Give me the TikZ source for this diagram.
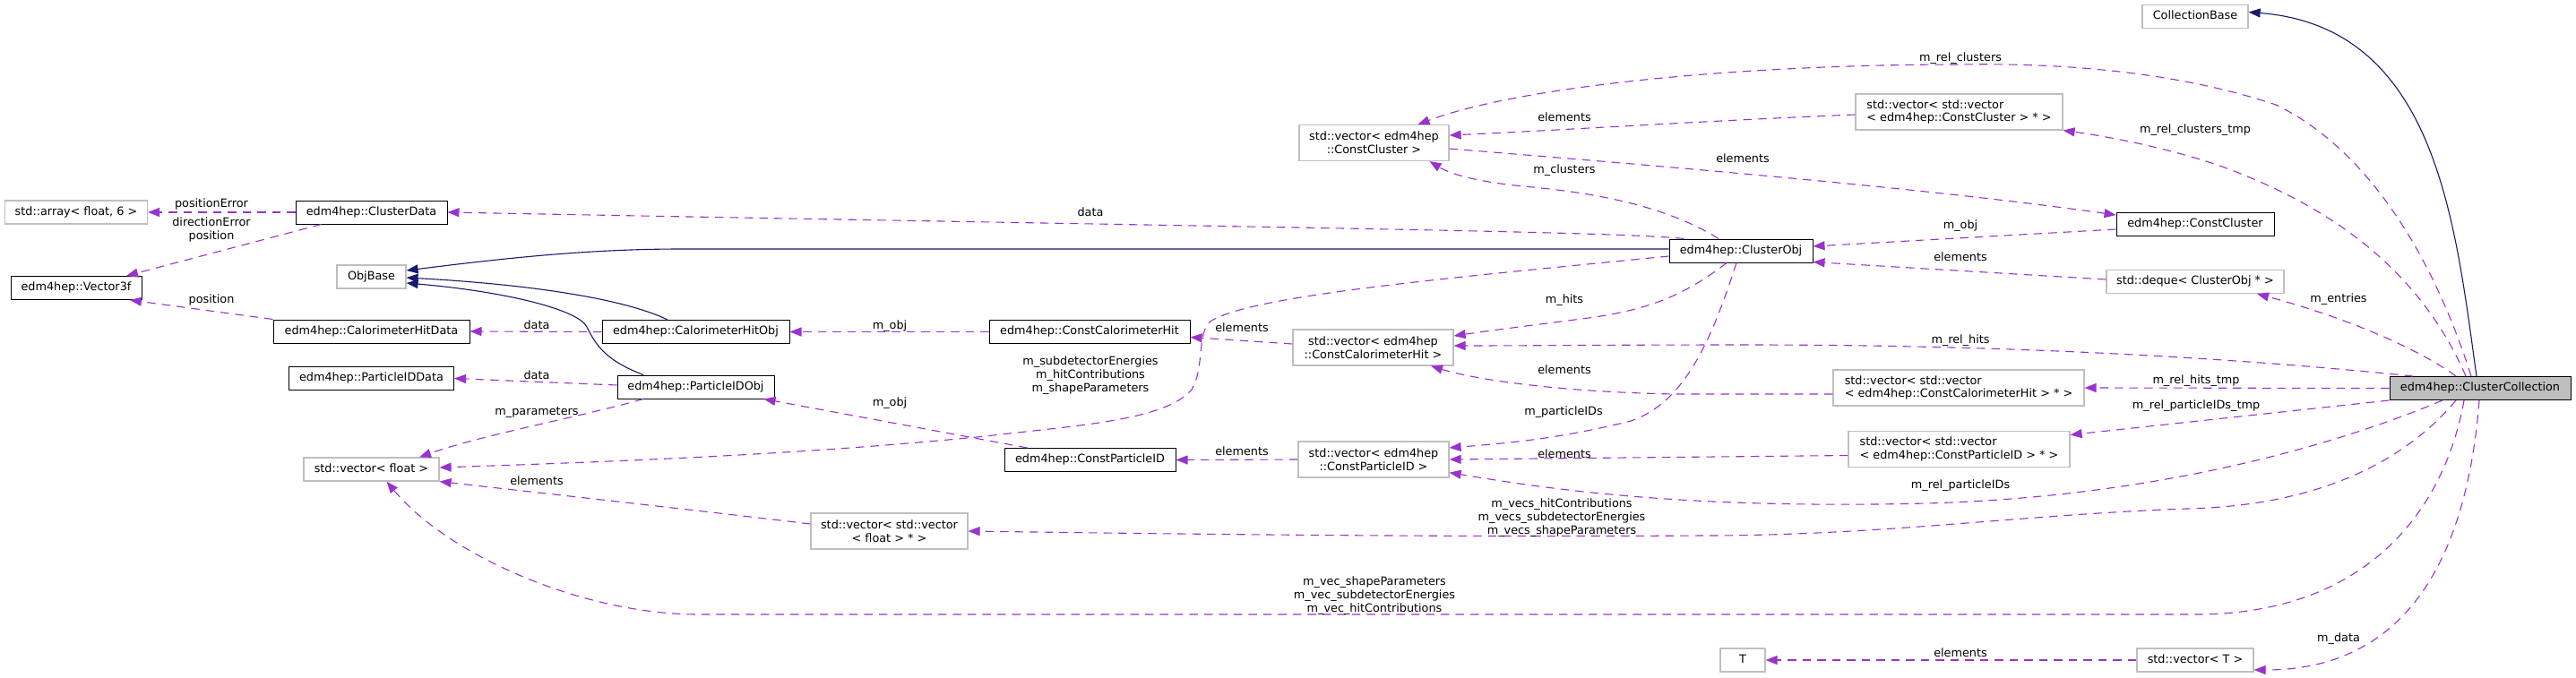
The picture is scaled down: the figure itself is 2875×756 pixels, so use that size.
\documentclass[tikz,border=0pt]{standalone}
\usepackage{fontspec}
\setmainfont{DejaVu Sans}
\usetikzlibrary{arrows.meta}
\definecolor{purp}{HTML}{9A32CD}
\definecolor{navyb}{HTML}{191970}
\definecolor{gline}{HTML}{BFBFBF}
\definecolor{ccfill}{HTML}{BFBFBF}
\begin{document}
\begin{tikzpicture}[x=1pt,y=-1pt,
  base/.style={font=\fontsize{12.8pt}{14.8pt}\selectfont, inner sep=0pt},
  bx/.style={base, draw=black, line width=1pt, fill=white, minimum height=26pt, text height=9.7pt, text depth=2.9pt},
  gbx/.style={base, draw=gline, line width=1.2pt, fill=white, minimum height=26pt, text height=9.7pt, text depth=2.9pt},
  gbxtwo/.style={base, draw=gline, line width=1.2pt, fill=white, minimum height=40pt, align=center},
  lbl/.style={base, text height=9.7pt, text depth=2.9pt},
  lblm/.style={base, align=center},
  dep/.style={draw=purp, line width=1.1pt, dash pattern=on 9.5pt off 7pt, -{Triangle[length=13pt,width=10pt]}},
  inhe/.style={draw=navyb, line width=1.1pt, -{Triangle[length=13pt,width=10pt]}}
]
\fill[white] (0,0) rectangle (2875,756);
\useasboundingbox (0,0) rectangle (2875,756);

% nodes
\node[gbx, minimum width=159pt] (arr) at (85,237) {std::array< float, 6 >};
\node[bx, minimum width=146pt] (v3f) at (85,321.5) {edm4hep::Vector3f};
\node[bx, minimum width=169pt] (cdata) at (414.5,237) {edm4hep::ClusterData};
\node[gbx, minimum width=77pt] (objb) at (414.5,309) {ObjBase};
\node[bx, minimum width=219pt] (chd) at (414.5,370) {edm4hep::CalorimeterHitData};
\node[bx, minimum width=184pt] (pidd) at (414.5,422.5) {edm4hep::ParticleIDData};
\node[gbx, minimum width=151pt] (vf) at (414.5,524) {std::vector< float >};
\node[bx, minimum width=209pt] (cho) at (776.5,370.5) {edm4hep::CalorimeterHitObj};
\node[bx, minimum width=175pt] (pido) at (776.5,432) {edm4hep::ParticleIDObj};
\node[gbxtwo, minimum width=175pt] (vvf) at (992.5,593) {std::vector< std::vector\\< float > * >};
\node[bx, minimum width=224pt] (cch) at (1216,370.5) {edm4hep::ConstCalorimeterHit};
\node[bx, minimum width=191pt] (cpid) at (1216.5,513.5) {edm4hep::ConstParticleID};
\node[gbxtwo, minimum width=167pt] (vcc) at (1533.5,159.5) {std::vector< edm4hep\\::ConstCluster >};
\node[gbxtwo, minimum width=179pt] (vcch) at (1532.5,388) {std::vector< edm4hep\\::ConstCalorimeterHit >};
\node[gbxtwo, minimum width=168pt] (vcpid) at (1533,513) {std::vector< edm4hep\\::ConstParticleID >};
\node[bx, minimum width=160pt] (cobj) at (1943,280) {edm4hep::ClusterObj};
\node[gbx, minimum width=50pt] (t) at (1945,737) {T};
\node[gbxtwo, align=left, minimum width=231pt] (vvcc) at (2186.5,125) {std::vector< std::vector\\< edm4hep::ConstCluster > * >};
\node[gbxtwo, align=left, minimum width=280pt] (vvcch) at (2186,433) {std::vector< std::vector\\< edm4hep::ConstCalorimeterHit > * >};
\node[gbxtwo, align=left, minimum width=247pt] (vvcpid) at (2186.5,501.5) {std::vector< std::vector\\< edm4hep::ConstParticleID > * >};
\node[gbx, minimum width=118pt] (cbase) at (2450,18.5) {CollectionBase};
\node[bx, minimum width=176pt] (ccl) at (2450,250) {edm4hep::ConstCluster};
\node[gbx, minimum width=198pt] (deq) at (2450,314.5) {std::deque< ClusterObj * >};
\node[gbx, minimum width=130pt] (vt) at (2450,737) {std::vector< T >};
\node[bx, fill=ccfill, minimum width=202pt] (cc) at (2768,433.5) {edm4hep::ClusterCollection};

% inheritance
\draw[inhe] ([xshift=-4pt]cc.north) .. controls (2740,250) and (2720,30) .. ([yshift=5pt]cbase.east);
\draw[inhe] ([yshift=2pt]cobj.west) -- (760,278) .. controls (650,278) and (550,290) .. ([yshift=7pt]objb.east);
\draw[inhe] ([xshift=-31.5pt]cho.north) .. controls (700,335) and (600,318) .. ([yshift=-1pt]objb.east);
\draw[inhe] ([xshift=-58.5pt]pido.north) .. controls (675,402) and (665,385) .. (655,365) .. controls (645,345) and (560,325) .. ([yshift=-7pt]objb.east);

% usage
\draw[dep] (cdata.west) -- (arr.east);
\draw[dep] ([xshift=29pt]cdata.south west) -- ([xshift=56pt]v3f.north);
\draw[dep] (chd.north west) -- ([xshift=60pt]v3f.south);
\draw[dep] ([xshift=17pt]cobj.north west) .. controls (1800,258) and (1400,254) .. (cdata.east);
\draw[dep] (cho.west) -- (chd.east);
\draw[dep] ([yshift=2pt]pido.west) -- (pidd.east);
\draw[dep] ([xshift=-58.5pt]pido.south) .. controls (650,465) and (540,485) .. ([xshift=53.5pt]vf.north);
\draw[dep] ([yshift=-6pt]cobj.west) .. controls (1600,312) and (1400,330) .. (1352,358) .. controls (1335,370) and (1345,410) .. (1330,435) .. controls (1300,470) and (1200,475) .. (1100,487) .. controls (900,507) and (700,515) .. ([yshift=2pt]vf.east);
\draw[dep] (cch.west) -- (cho.east);
\draw[dep] ([xshift=26pt]cpid.north west) -- ([xshift=-12pt]pido.south east);
\draw[dep] ([yshift=4pt]vcch.west) -- ([yshift=-6pt]cch.east);
\draw[dep] (vcpid.west) -- (cpid.east);
\draw[dep] ([yshift=8pt]vvf.west) .. controls (780,570) and (600,550) .. (vf.south east);
\draw[dep] ([xshift=-25pt]cobj.north) .. controls (1860,230) and (1780,215) .. (1700,208) .. controls (1650,203) and (1620,195) .. ([xshift=62pt]vcc.south);
\draw[dep] ([yshift=-3pt]vvcc.west) .. controls (1900,135) and (1750,145) .. ([yshift=8.5pt]vcc.east);
\draw[dep] ([yshift=-6.5pt]vcc.east) .. controls (1850,185) and (2150,210) .. ([yshift=10pt]ccl.west);
\draw[dep] ([yshift=-6pt]ccl.west) -- ([yshift=5pt]cobj.east);
\draw[dep] ([yshift=2.5pt]deq.west) -- ([yshift=1pt]cobj.south east);
\draw[dep] ([xshift=-16pt]cobj.south) .. controls (1880,330) and (1840,345) .. (1780,354) .. controls (1720,362) and (1670,368) .. ([yshift=13pt]vcch.east);
\draw[dep] ([xshift=-5pt]cobj.south) .. controls (1910,380) and (1880,450) .. (1820,470) .. controls (1740,490) and (1680,495) .. ([yshift=13pt]vcpid.east);
\draw[dep] ([yshift=-7pt]vvcch.west) -- (1870,440) .. controls (1750,438) and (1650,425) .. ([xshift=64.5pt]vcch.south);
\draw[dep] ([yshift=-7pt]vvcpid.west) -- (vcpid.east);
\draw[dep] ([xshift=-10pt]cc.north) .. controls (2720,300) and (2650,170) .. (2540,117) .. controls (2430,80) and (2300,70) .. (2186,72) .. controls (1950,72) and (1700,95) .. ([xshift=49pt]vcc.north);
\draw[dep] ([xshift=-16pt]cc.north) .. controls (2700,300) and (2600,230) .. (2480,186) .. controls (2420,165) and (2350,152) .. (vvcc.south east);
\draw[dep] ([xshift=-27pt]cc.north) .. controls (2700,390) and (2620,355) .. ([xshift=69pt]deq.south);
\draw[dep] ([xshift=-75pt]cc.north) .. controls (2500,400) and (2250,385) .. (1950,385) .. controls (1800,385) and (1700,386) .. ([yshift=2pt]vcch.east);
\draw[dep] (cc.west) -- (vvcch.east);
\draw[dep] (cc.south west) -- ([yshift=16pt]vvcpid.east);
\draw[dep] ([xshift=-42pt]cc.south) .. controls (2600,500) and (2400,555) .. (2150,562) .. controls (1900,568) and (1750,550) .. ([yshift=6pt]vcpid.south east);
\draw[dep] ([xshift=-27pt]cc.south) .. controls (2680,520) and (2580,565) .. (2440,568) .. controls (2250,575) and (2100,598) .. (1900,598) .. controls (1600,600) and (1300,596) .. (vvf.east);
\draw[dep] ([xshift=-18pt]cc.south) .. controls (2730,560) and (2650,686) .. (2450,686) -- (780,686) .. controls (650,686) and (500,620) .. ([xshift=17pt]vf.south);
\draw[dep] ([xshift=-1pt]cc.south) .. controls (2755,600) and (2700,748) .. ([yshift=-11pt]vt.east);
\draw[dep] (vt.west) -- (t.east);

% labels
\node[lbl] (l5) at (236,228) {positionError};
\node[lblm] (l6) at (236,256.5) {directionError\\position};
\node[lbl] (l7) at (236,335) {position};
\node[lbl] (l8) at (1217,238) {data};
\node[lbl] (l9) at (599,364) {data};
\node[lbl] (l10) at (599,420) {data};
\node[lbl] (l11) at (599,460) {m\_parameters};
\node[lblm] (l12) at (1217,419) {m\_subdetectorEnergies\\m\_hitContributions\\m\_shapeParameters};
\node[lbl] (l13) at (993,364) {m\_obj};
\node[lbl] (l14) at (993,450) {m\_obj};
\node[lbl] (l15) at (1386,367) {elements};
\node[lbl] (l16) at (1386,505) {elements};
\node[lbl] (l17) at (599,538) {elements};
\node[lbl] (l18) at (1746,190) {m\_clusters};
\node[lbl] (l19) at (1746,132) {elements};
\node[lbl] (l20) at (1945,178) {elements};
\node[lbl] (l21) at (2188,252) {m\_obj};
\node[lbl] (l22) at (2188,288) {elements};
\node[lbl] (l23) at (1746,335) {m\_hits};
\node[lbl] (l24) at (1745,460) {m\_particleIDs};
\node[lbl] (l25) at (1746,414) {elements};
\node[lbl] (l26) at (1746,508) {elements};
\node[lbl] (l27) at (2188,65) {m\_rel\_clusters};
\node[lbl] (l28) at (2450,145) {m\_rel\_clusters\_tmp};
\node[lbl] (l29) at (2610,334) {m\_entries};
\node[lbl] (l30) at (2188,380) {m\_rel\_hits};
\node[lbl] (l31) at (2451,425) {m\_rel\_hits\_tmp};
\node[lbl] (l32) at (2451,453) {m\_rel\_particleIDs\_tmp};
\node[lbl] (l33) at (2188,542) {m\_rel\_particleIDs};
\node[lblm] (l34) at (1743,578) {m\_vecs\_hitContributions\\m\_vecs\_subdetectorEnergies\\m\_vecs\_shapeParameters};
\node[lblm] (l35) at (1534,665) {m\_vec\_shapeParameters\\m\_vec\_subdetectorEnergies\\m\_vec\_hitContributions};
\node[lbl] (l36) at (2610,713) {m\_data};
\node[lbl] (l37) at (2188,730) {elements};
\end{tikzpicture}
\end{document}
